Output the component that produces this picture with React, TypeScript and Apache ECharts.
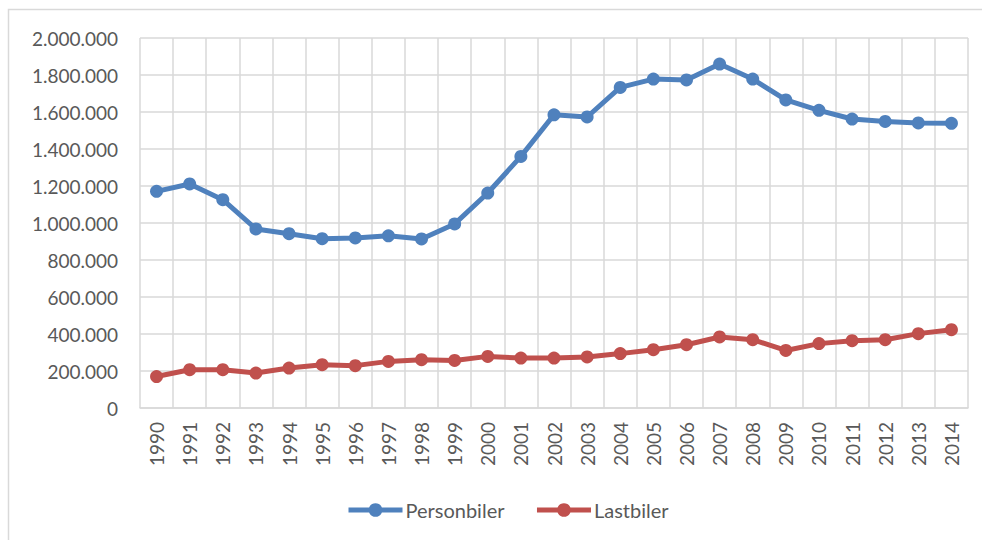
import React, { useEffect, useRef } from "react";
import * as echarts from "echarts";

const years = [
  "1990", "1991", "1992", "1993", "1994", "1995", "1996", "1997", "1998", "1999",
  "2000", "2001", "2002", "2003", "2004", "2005", "2006", "2007", "2008", "2009",
  "2010", "2011", "2012", "2013", "2014",
];

const personbiler = [
  1171000, 1211000, 1126000, 968000, 942000, 915000, 919000, 931000, 914000, 995000,
  1162000, 1360000, 1585000, 1573000, 1733000, 1778000, 1773000, 1859000, 1778000, 1665000,
  1609000, 1562000, 1549000, 1541000, 1539000,
];

const lastbiler = [
  170000, 207000, 207000, 189000, 216000, 234000, 229000, 252000, 261000, 257000,
  279000, 270000, 270000, 276000, 294000, 315000, 342000, 384000, 369000, 311000,
  348000, 364000, 369000, 402000, 423000,
];

const seriesNames = ["Personbiler", "Lastbiler"];

const FONT = "Lato, 'Open Sans', 'Liberation Sans', sans-serif";
const TEXT = "#595959";
const GRID = "#d9d9d9";

function fmt(v: number): string {
  return String(Math.round(v)).replace(/\B(?=(\d{3})+(?!\d))/g, ".");
}

export default function App() {
  const ref = useRef<HTMLDivElement>(null);
  useEffect(() => {
    if (!ref.current) return;
    const chart = echarts.init(ref.current, undefined, { renderer: "svg" });
    chart.setOption({
      animation: false,
      backgroundColor: "#ffffff",
      textStyle: { fontFamily: FONT },
      graphic: [
        {
          type: "rect",
          shape: { x: 8.5, y: 9.5, width: 990, height: 560 },
          style: { fill: "none", stroke: GRID, lineWidth: 1.5 },
          silent: true,
        },
      ],
      grid: { left: 140, right: 14, top: 38, bottom: 132, containLabel: false },
      legend: {
        bottom: 15,
        left: 341,
        itemWidth: 54,
        itemHeight: 17,
        itemGap: 30,
        lineStyle: { width: 5 },
        textStyle: { color: TEXT, fontSize: 20, fontFamily: FONT, padding: [0, 0, 0, -2] },
        data: seriesNames,
      },
      xAxis: {
        type: "category",
        data: years,
        boundaryGap: true,
        axisLine: { show: true, lineStyle: { color: GRID, width: 1.5 } },
        axisTick: { show: false },
        splitLine: { show: true, lineStyle: { color: GRID, width: 1.5 } },
        axisLabel: {
          rotate: 90,
          interval: 0,
          margin: 14,
          color: TEXT,
          fontSize: 19,
          fontFamily: FONT,
        },
      },
      yAxis: {
        type: "value",
        min: 0,
        max: 2000000,
        interval: 200000,
        axisLine: { show: false },
        axisTick: { show: false },
        splitLine: { show: true, lineStyle: { color: GRID, width: 1.5 } },
        axisLabel: {
          margin: 22,
          color: TEXT,
          fontSize: 19,
          fontFamily: FONT,
          formatter: (v: number) => fmt(v),
        },
      },
      series: [
        {
          name: seriesNames[0],
          type: "line",
          data: personbiler,
          symbol: "circle",
          symbolSize: 13,
          lineStyle: { color: "#4f81bd", width: 5 },
          itemStyle: { color: "#4f81bd" },
        },
        {
          name: seriesNames[1],
          type: "line",
          data: lastbiler,
          symbol: "circle",
          symbolSize: 13,
          lineStyle: { color: "#c0504d", width: 5 },
          itemStyle: { color: "#c0504d" },
        },
      ],
    });
    return () => chart.dispose();
  }, []);
  return (
    <div
      ref={ref}
      style={{ position: "absolute", left: 0, top: 0, width: 982, height: 540 }}
    />
  );
}
